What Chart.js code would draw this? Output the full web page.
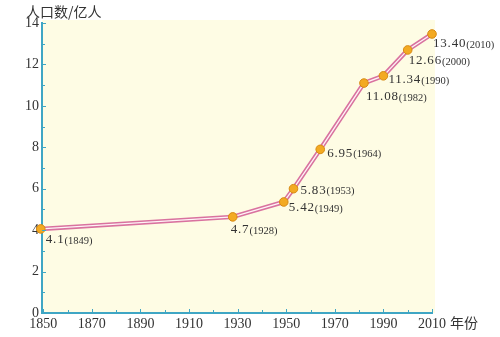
<!DOCTYPE html>
<html><head><meta charset="utf-8">
<script src="https://cdn.jsdelivr.net/npm/chart.js@4/dist/chart.umd.min.js"></script>
<style>html,body{margin:0;padding:0;background:#fff;}#wrap{width:500px;height:337px;position:relative;}</style>
</head><body><div id="wrap"><canvas id="c"></canvas></div>
<script>
const years = [1849, 1928, 1949, 1953, 1964, 1982, 1990, 2000, 2010];
// vertical positions of the points as drawn in the picture (the picture plots some points off their labelled values)
const plottedPopulation = [4.06, 4.64, 5.36, 6.0, 7.9, 11.1, 11.45, 12.7, 13.47];
const valueLabels = ['4.1', '4.7', '5.42', '5.83', '6.95', '11.08', '11.34', '12.66', '13.40'];
const yearLabels = ['(1849)', '(1928)', '(1949)', '(1953)', '(1964)', '(1982)', '(1990)', '(2000)', '(2010)'];
const xTickValues = [1850, 1860, 1870, 1880, 1890, 1900, 1910, 1920, 1930, 1940, 1950, 1960, 1970, 1980, 1990, 2000, 2010];
const yTickValues = [0,1,2,3,4,5,6,7,8,9,10,11,12,13,14];
const yTitle = '人口数/亿人';
const xTitle = '年份';

// label offsets (px) relative to each point
const labelOffsets = [[5,11],[-2,13],[5,6],[7,2],[7,4],[2,14],[5,4],[1,11],[1,10]];

const pts = years.map((y,i)=>({x:y, y:plottedPopulation[i]}));
const AXIS = '#3fa6c4';
const TXT = '#333333';

const deco = {
  id:'deco',
  beforeDraw(chart){
    const {ctx, chartArea:a} = chart;
    ctx.save();
    ctx.fillStyle = '#fefce4';
    ctx.fillRect(a.left, a.top-3, a.right-a.left+3, a.bottom-a.top+3);
    ctx.restore();
  },
  afterDraw(chart){
    const {ctx, chartArea:a, scales} = chart;
    const xs = scales.x, ys = scales.y;
    ctx.save();
    ctx.strokeStyle = AXIS; ctx.lineWidth = 1;
    yTickValues.forEach(v=>{
      const py = Math.round(ys.getPixelForValue(v))+0.5;
      const len = v%2===0 ? 4 : 3;
      ctx.beginPath(); ctx.moveTo(a.left, py); ctx.lineTo(a.left+len, py); ctx.stroke();
    });
    xTickValues.forEach(v=>{
      const px = Math.round(xs.getPixelForValue(v))+0.5;
      const len = (v-1850)%20===0 ? 4 : 3;
      ctx.beginPath(); ctx.moveTo(px, a.bottom); ctx.lineTo(px, a.bottom-len); ctx.stroke();
    });
    // titles
    ctx.fillStyle = TXT;
    ctx.font = '14px "Noto Sans CJK SC"';
    ctx.textBaseline = 'middle';
    ctx.textAlign = 'left';
    ctx.fillText(yTitle, 26, 12);
    ctx.fillText(xTitle, 450, 323);
    // data labels
    const meta = chart.getDatasetMeta(0);
    meta.data.forEach((el,i)=>{
      const [dx,dy] = labelOffsets[i];
      let x = el.x + dx, y = el.y + dy;
      ctx.font = '13px "Liberation Serif"';
      ctx.letterSpacing = '0.8px';
      ctx.fillText(valueLabels[i], x, y);
      const w = ctx.measureText(valueLabels[i]).width;
      ctx.letterSpacing = '0px';
      ctx.font = '10.5px "Liberation Serif"';
      ctx.fillText(yearLabels[i], x + w, y+1);
    });
    ctx.restore();
  }
};

new Chart(document.getElementById('c'), {
  type:'line',
  data:{datasets:[
    {data:pts, showLine:false, pointRadius:4.3, pointBackgroundColor:'#f3aa22', pointBorderColor:'#d88a12', pointBorderWidth:1, clip:false},
    {data:pts, borderColor:'#fff3f6', borderWidth:1.3, pointRadius:0, tension:0, clip:false},
    {data:pts, borderColor:'#d9729f', borderWidth:4.5, pointRadius:0, tension:0, clip:false}
  ]},
  options:{
    responsive:true, maintainAspectRatio:false, animation:false,
    layout:{padding:{top:23, right:68, left:0, bottom:0}},
    plugins:{legend:{display:false}, tooltip:{enabled:false}},
    scales:{
      x:{type:'linear', min:1849.5, max:2010,
        afterBuildTicks(s){ s.ticks = xTickValues.map(v=>({value:v})); },
        afterFit(s){ s.height = 24; },
        grid:{display:true, drawOnChartArea:false, drawTicks:false},
        border:{color:AXIS, width:2},
        ticks:{autoSkip:false, maxRotation:0, padding:3, color:TXT, font:{family:'Liberation Serif', size:14},
          callback:v=> (v-1850)%20===0 ? String(v) : ''}
      },
      y:{min:0, max:14,
        afterBuildTicks(s){ s.ticks = yTickValues.map(v=>({value:v})); },
        afterFit(s){ s.width = 42; },
        grid:{display:true, drawOnChartArea:false, drawTicks:false},
        border:{color:AXIS, width:2},
        ticks:{autoSkip:false, padding:3, color:TXT, font:{family:'Liberation Serif', size:14},
          callback:v=> v%2===0 ? String(v) : ''}
      }
    }
  },
  plugins:[deco]
});
</script></body></html>
